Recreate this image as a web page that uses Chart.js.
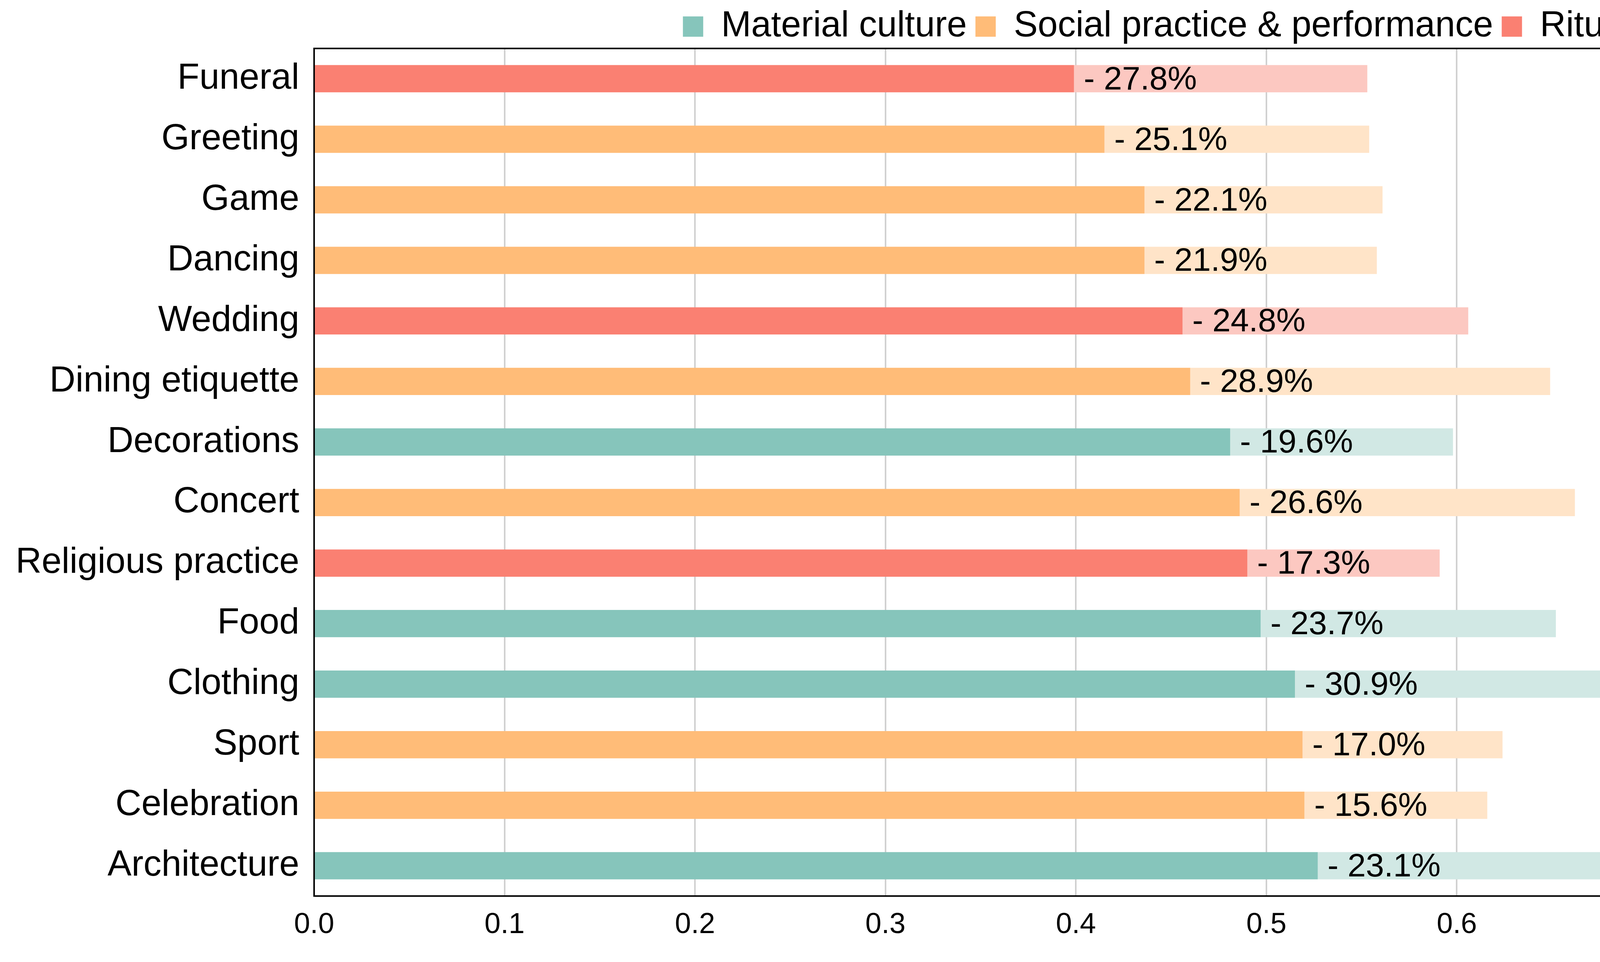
<!DOCTYPE html>
<html>
<head>
<meta charset="utf-8">
<script src="https://cdn.jsdelivr.net/npm/chart.js@4"></script>
<style>
  html, body { margin: 0; padding: 0; background: #fff; overflow: hidden; }
  canvas { display: block; }
</style>
</head>
<body>
<canvas id="chart" width="4786" height="2462" style="width:4786px;height:2462px"></canvas>
<script>
// data
const categories = ['Funeral', 'Greeting', 'Game', 'Dancing', 'Wedding', 'Dining etiquette', 'Decorations',
  'Concert', 'Religious practice', 'Food', 'Clothing', 'Sport', 'Celebration', 'Architecture'];
const groups = ['ritual', 'social', 'social', 'social', 'ritual', 'social', 'material',
  'social', 'ritual', 'material', 'material', 'social', 'social', 'material'];
const solidValues = [0.399, 0.415, 0.436, 0.436, 0.456, 0.460, 0.481, 0.486, 0.490, 0.497, 0.515, 0.519, 0.520, 0.527];
const totalValues = [0.553, 0.554, 0.561, 0.558, 0.606, 0.649, 0.598, 0.662, 0.591, 0.652, 0.745, 0.624, 0.616, 0.686];
const dropLabels = ['27.8%', '25.1%', '22.1%', '21.9%', '24.8%', '28.9%', '19.6%', '26.6%', '17.3%', '23.7%', '30.9%', '17.0%', '15.6%', '23.1%'];
const xTicks = [0, 0.1, 0.2, 0.3, 0.4, 0.5, 0.6, 0.7, 0.8];

const groupNames = { material: 'Material culture', social: 'Social practice & performance', ritual: 'Ritual & ceremony' };
const darkColors = { material: '#86c5bb', social: '#ffbc78', ritual: '#fa8072' };
const lightColors = { material: '#d1e8e4', social: '#ffe4c8', ritual: '#fcc8c1' };

const restValues = totalValues.map((t, i) => t - solidValues[i]);

const dropLabelPlugin = {
  id: 'dropLabels',
  afterDatasetsDraw(chart) {
    const ctx = chart.ctx;
    const meta = chart.getDatasetMeta(0);
    ctx.save();
    ctx.font = '84px Arial, "Liberation Sans"';
    ctx.fillStyle = '#000';
    ctx.textBaseline = 'middle';
    meta.data.forEach((bar, i) => {
      ctx.fillText('- ' + dropLabels[i], bar.x + 25, bar.y + 4);
    });
    ctx.restore();
  }
};

const frame = {
  id: 'frame',
  afterDraw(chart) {
    const a = chart.chartArea, ctx = chart.ctx;
    ctx.save();
    ctx.strokeStyle = '#000';
    ctx.lineWidth = 4;
    ctx.strokeRect(a.left, a.top, a.right - a.left, a.bottom - a.top);
    ctx.restore();
  }
};

new Chart(document.getElementById('chart'), {
  type: 'bar',
  data: {
    labels: categories,
    datasets: [
      { data: solidValues, backgroundColor: groups.map(g => darkColors[g]), barPercentage: 0.45, categoryPercentage: 1 },
      { data: restValues, backgroundColor: groups.map(g => lightColors[g]), barPercentage: 0.45, categoryPercentage: 1 }
    ]
  },
  options: {
    indexAxis: 'y',
    responsive: false,
    animation: false,
    devicePixelRatio: 1,
    layout: { padding: { top: 0, right: 70, left: 10, bottom: 20 } },
    scales: {
      x: {
        stacked: true, min: 0, max: 0.8,
        afterBuildTicks: axis => { axis.ticks = xTicks.map(v => ({ value: v })); },
        ticks: { color: '#000', font: { size: 74, family: 'Arial, "Liberation Sans"' }, padding: 30, callback: v => v.toFixed(1) },
        grid: { color: '#d0d0d0', lineWidth: 4, drawTicks: false },
        border: { display: false }
      },
      y: {
        stacked: true,
        ticks: { color: '#000', font: { size: 92, family: 'Arial, "Liberation Sans"' }, padding: 30 },
        grid: { display: false },
        border: { display: false }
      }
    },
    plugins: {
      tooltip: { enabled: false },
      legend: {
        position: 'top', align: 'end',
        labels: {
          color: '#000',
          font: { size: 92, family: 'Arial, "Liberation Sans"' },
          boxWidth: 52, boxHeight: 52, padding: 22,
          generateLabels: () => ['material', 'social', 'ritual'].map(g => ({
            text: groupNames[g], fillStyle: darkColors[g], strokeStyle: darkColors[g], lineWidth: 0, hidden: false
          }))
        },
        onClick: null
      }
    }
  },
  plugins: [dropLabelPlugin, frame]
});
</script>
</body>
</html>
